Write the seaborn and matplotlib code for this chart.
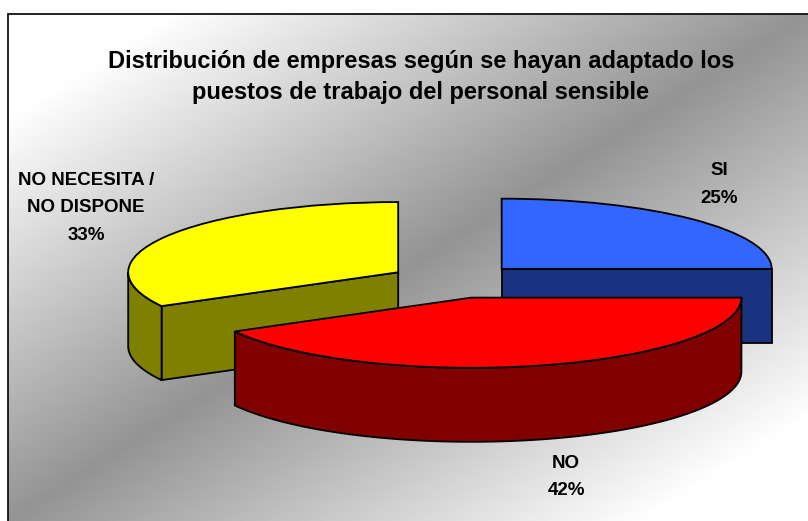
import numpy as np
import matplotlib
matplotlib.use("Agg")
import matplotlib.pyplot as plt
import seaborn as sns

sns.set_style("white")
plt.rcParams['font.family'] = ['Liberation Sans', 'DejaVu Sans']

# data
labels = ['SI', 'NO', 'NO NECESITA /\nNO DISPONE']
values = [25, 42, 33]
top_colors = sns.color_palette(['#3366FF', '#FF0000', '#FFFF00'])
side_colors = sns.color_palette(['#1A3380', '#800000', '#808000'])
title = 'Distribución de empresas según se hayan adaptado los\npuestos de trabajo del personal sensible'

W, H = 808, 521
squash = 0.26     # ellipse height / width
depth = 74 / squash
radius = 270
center = (455, (521 - 281) / squash)
explode = [66, 66, 66]

fig = plt.figure(figsize=(W / 100, H / 100), dpi=100, facecolor='white')
ax = fig.add_axes([0, 0, 1, 1])

# background: diagonal grey gradient, the frame runs off the right and bottom
xx, yy = np.meshgrid(np.linspace(0, 1, 400), np.linspace(0, 1, 260))
shade = np.clip(0.58 + 0.42 * np.abs(xx + yy - 1) / 0.8, 0, 1)
ax.imshow(shade, cmap='gray', vmin=0, vmax=1, aspect='auto', zorder=0,
          extent=(8, W, 0, (H - 14) / squash))

wedges, _ = ax.pie(values, explode=explode, center=center, radius=radius,
                   startangle=90, counterclock=False, colors=top_colors,
                   wedgeprops=dict(edgecolor='black', linewidth=1.3))
ax.set_aspect('auto')
ax.set_xlim(0, W)
ax.set_ylim(0, H / squash)
ax.axis('off')


def arc(w, t1, t2):
    t = np.radians(np.linspace(t1, t2, 80))
    return w.center[0] + w.r * np.cos(t), w.center[1] + w.r * np.sin(t)


# side walls come straight from the wedge geometry
for w, side, order in zip(wedges, side_colors, [2, 4, 2]):
    w.set_zorder(order + 1)
    t1, t2 = w.theta1, w.theta2
    for t, normal in [(t1, t1 - 90), (t2, t2 + 90)]:
        if np.sin(np.radians(normal)) < -1e-6:
            ex = w.center[0] + w.r * np.cos(np.radians(t))
            ey = w.center[1] + w.r * np.sin(np.radians(t))
            ax.fill([w.center[0], ex, ex, w.center[0]],
                    [w.center[1], ey, ey - depth, w.center[1] - depth],
                    facecolor=side, edgecolor='black', lw=1.3, zorder=order)
    # front facing part of the rim
    lo, hi = t1 % 360, t2 % 360
    if hi <= lo:
        hi += 360
    for a, b in [(180, 360), (540, 720)]:
        s, e = max(lo, a), min(hi, b)
        if e > s:
            x, y = arc(w, s, e)
            ax.fill(np.r_[x, x[::-1]], np.r_[y, y[::-1] - depth],
                    facecolor=side, edgecolor='black', lw=1.3, zorder=order)

# only the left and top frame lines are inside the picture
top_y = (H - 14) / squash
ax.plot([8, 8, W], [0, top_y, top_y], color='#111111', lw=1.3, zorder=6,
        solid_joinstyle='miter')

fig.text(421 / W, 1 - 77 / H, title, ha='center', va='center', fontsize=17,
         fontweight='bold', linespacing=1.48, color='black')

lab_pos = [(719, 184.5), (566, 477), (86, 208)]
for lab, val, (px, py) in zip(labels, values, lab_pos):
    fig.text(px / W, 1 - py / H, f'{lab}\n{val}%', ha='center', va='center',
             fontsize=13.5, fontweight='bold', linespacing=1.8, color='black')

fig.savefig('out.png', dpi=100)
